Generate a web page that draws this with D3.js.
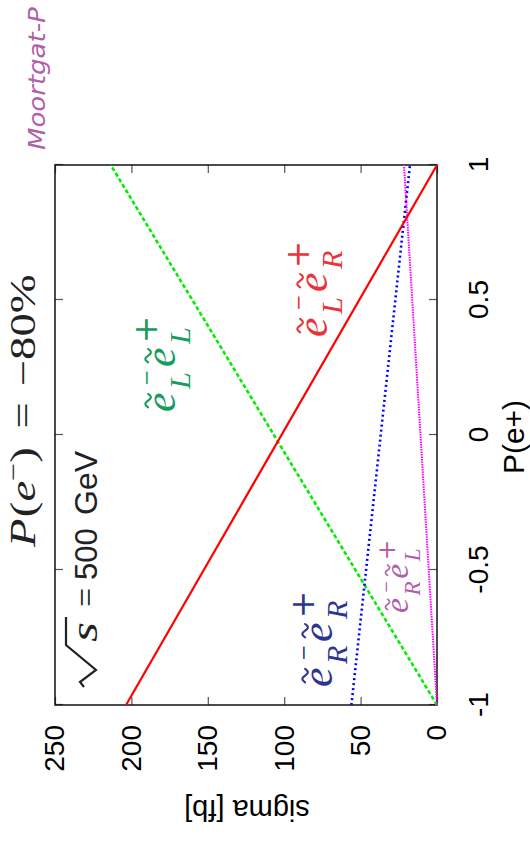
<!DOCTYPE html>
<html><head><meta charset="utf-8">
<script src="https://cdn.jsdelivr.net/npm/d3@7"></script>
<style>body{margin:0;background:#fff;overflow:hidden} svg{display:block}</style>
</head><body><svg id="c" width="530" height="845"></svg>
<script>
// data (P(e+) on x, sigma [fb] on y, before rotation)
const polPositron = [-1, 1];
const sigmaLR = [203.5, 0];    // e_L- e_R+  (red solid)
const sigmaLL = [0, 213.5];    // e_L- e_L+  (green dashed)
const sigmaRR = [56, 17.7];    // e_R- e_R+  (blue dotted)
const sigmaRL = [0, 21.6];     // e_R- e_L+  (magenta dotted)
const xTicks = [-1, -0.5, 0, 0.5, 1];
const xTickLabels = ["-1", "-0.5", "0", "0.5", "1"];
const yTicks = [0, 50, 100, 150, 200, 250];
const yTickLabels = ["0", "50", "100", "150", "200", "250"];

const svg = d3.select("#c");
// whole landscape chart rotated 90° counter-clockwise
const G = svg.append("g").attr("transform", "translate(0,845) rotate(-90)");

const x = d3.scaleLinear().domain([-1, 1]).range([140, 680]);
const y = d3.scaleLinear().domain([0, 250]).range([437, 55]);
const sans = "'Liberation Sans', Arial, sans-serif";
const serif = "'Liberation Serif', 'DejaVu Serif', serif";
const dserif = "'DejaVu Serif', 'Liberation Serif', serif";

// axes with inward ticks
const xAxis = d3.axisBottom(x).tickValues(xTicks).tickFormat((d, i) => xTickLabels[i])
  .tickSizeInner(-8).tickSizeOuter(0).tickPadding(31);
const gx = G.append("g").attr("transform", `translate(0,${y(0)})`).call(xAxis);
const yAxis = d3.axisLeft(y).tickValues(yTicks).tickFormat((d, i) => yTickLabels[i])
  .tickSizeInner(-8).tickSizeOuter(0).tickPadding(20);
const gy = G.append("g").attr("transform", `translate(${x(-1)},0)`).call(yAxis);
// mirror ticks
const gx2 = G.append("g").attr("transform", `translate(0,${y(250)})`)
  .call(d3.axisTop(x).tickValues(xTicks).tickFormat("").tickSizeInner(-8).tickSizeOuter(0));
const gy2 = G.append("g").attr("transform", `translate(${x(1)},0)`)
  .call(d3.axisRight(y).tickValues(yTicks).tickFormat("").tickSizeInner(-8).tickSizeOuter(0));
[gx, gy, gx2, gy2].forEach(g => {
  g.select(".domain").remove();
  g.selectAll(".tick line").attr("stroke", "#555").attr("stroke-width", 1.2);
  g.selectAll(".tick text").attr("fill", "#000").style("font-family", sans).style("font-size", "28px");
});

// frame
G.append("rect").attr("x", x(-1)).attr("y", y(250)).attr("width", x(1) - x(-1)).attr("height", y(0) - y(250))
  .attr("fill", "none").attr("stroke", "#111").attr("stroke-width", 1.5);

// lines
const series = [
  {vals: sigmaLL, color: "#00ee00", dash: "4,2.5", w: 2.6},
  {vals: sigmaRR, color: "#0000ff", dash: "2,3", w: 2.6},
  {vals: sigmaRL, color: "#ff00ff", dash: "1.5,1", w: 2},
  {vals: sigmaLR, color: "#ff0000", dash: null, w: 2.2},
];
const line = d3.line().x(d => x(d[0])).y(d => y(d[1]));
series.forEach(s => {
  G.append("path").datum(polPositron.map((p, i) => [p, s.vals[i]]))
    .attr("d", line).attr("fill", "none").attr("stroke", s.color)
    .attr("stroke-width", s.w).attr("stroke-dasharray", s.dash);
});

// axis titles
G.append("text").attr("x", 408).attr("y", 524).attr("text-anchor", "middle")
  .style("font-family", sans).style("font-size", "30px").text("P(e+)");
G.append("text").attr("transform", "translate(35,247) rotate(-90)").attr("text-anchor", "middle")
  .attr("dy", "0.35em").style("font-family", sans).style("font-size", "29px").text("sigma [fb]");

// stretch a group of text along the reading direction to a target length
function fit(g, target) {
  const w = g.node().getBBox().width;
  const u = +g.attr("data-u"), v = +g.attr("data-v");
  g.attr("transform", `translate(${u},${v}) scale(${target / w},1)`);
}

// author note (runs off the top edge in the original)
const note = G.append("g").attr("data-u", 695).attr("data-v", 45).attr("fill", "#b060a8");
note.append("text").attr("x", 0).attr("y", 0).style("font-family", "'DejaVu Sans', sans-serif")
  .style("font-style", "italic").style("font-size", "23px").text("Moortgat-P");
fit(note, 143);

// P(e-) = -80%
const t1g = G.append("g").attr("data-u", 298).attr("data-v", 35).attr("fill", "#222");
const t1 = t1g.append("text").attr("x", 0).attr("y", 0).style("font-size", "35px").style("font-family", serif);
t1.append("tspan").style("font-style", "italic").text("P");
t1.append("tspan").attr("dx", 1).text("(");
t1.append("tspan").style("font-style", "italic").text("e");
t1.append("tspan").style("font-size", "24px").attr("dy", -14).text("−");
t1.append("tspan").attr("dy", 14).text(")");
t1.append("tspan").attr("dx", 14).text("=");
t1.append("tspan").attr("dx", 12).text("−80%");
fit(t1g, 274);

// tilde helper
const wave = d3.line().curve(d3.curveBasis);
function tilde(g, cx, cy, w, h, color, sw) {
  const pts = d3.range(0, 1.0001, 0.1).map(t => [cx - w / 2 + t * w, cy - (h / 2) * Math.sin(2 * Math.PI * t)]);
  g.append("path").attr("d", wave(pts)).attr("fill", "none").attr("stroke", color)
    .attr("stroke-width", sw).attr("stroke-linecap", "round");
}

// sqrt(s) = 500 GeV
const t2g = G.append("g").attr("transform", "translate(158,97)").attr("fill", "#222");
t2g.append("path").attr("d", d3.line()([[0, -13], [5, -17], [17, -1], [42, -31], [70, -31]]))
  .attr("fill", "none").attr("stroke", "#222").attr("stroke-width", 2.2).attr("stroke-linejoin", "miter");
t2g.append("text").attr("transform", "translate(45,0) scale(1.35,1)").style("font-family", serif)
  .style("font-style", "italic").style("font-size", "38px").text("s");
t2g.append("text").attr("x", 80).attr("y", 0).style("font-family", serif).style("font-size", "34px").text("=");
t2g.append("text").attr("x", 107).attr("y", 0).style("font-family", sans).style("font-size", "31px").text("500");
t2g.append("text").attr("x", 172).attr("y", 0).style("font-family", sans).style("font-size", "32px").text("GeV");

// slepton pair labels
function pairLabel(u, v, F, color, s1, s2) {
  const g = G.append("g").attr("transform", `translate(${u},${v})`).attr("fill", color);
  [[0, s1, "−"], [1.07 * F, s2, "+"]].forEach(([dx, sub, sup]) => {
    g.append("text").attr("x", dx).attr("y", 0).style("font-family", serif).style("font-style", "italic")
      .style("font-size", 1.05 * F + "px").text("e");
    tilde(g, dx + 0.27 * F, -0.64 * F, 0.32 * F, 0.14 * F, color, 0.05 * F);
    if (sup === "+") {
      g.append("text").attr("x", dx + 0.57 * F).attr("y", -0.42 * F)
        .style("font-family", dserif).style("font-size", 0.78 * F + "px").text(sup);
    } else {
      g.append("text").attr("x", dx + 0.62 * F).attr("y", -0.52 * F)
        .style("font-family", dserif).style("font-size", 0.47 * F + "px").text(sup);
    }
    g.append("text").attr("x", dx + 0.55 * F).attr("y", 0.36 * F).style("font-family", serif)
      .style("font-style", "italic").style("font-size", 0.72 * F + "px").text(sub);
  });
}
pairLabel(433, 175, 42, "#169c5e", "L", "L");
pairLabel(508, 327, 42, "#e8333a", "L", "R");
pairLabel(158, 332, 42, "#2b3592", "R", "R");
pairLabel(232, 408, 32, "#b060a8", "R", "L");
</script></body></html>
